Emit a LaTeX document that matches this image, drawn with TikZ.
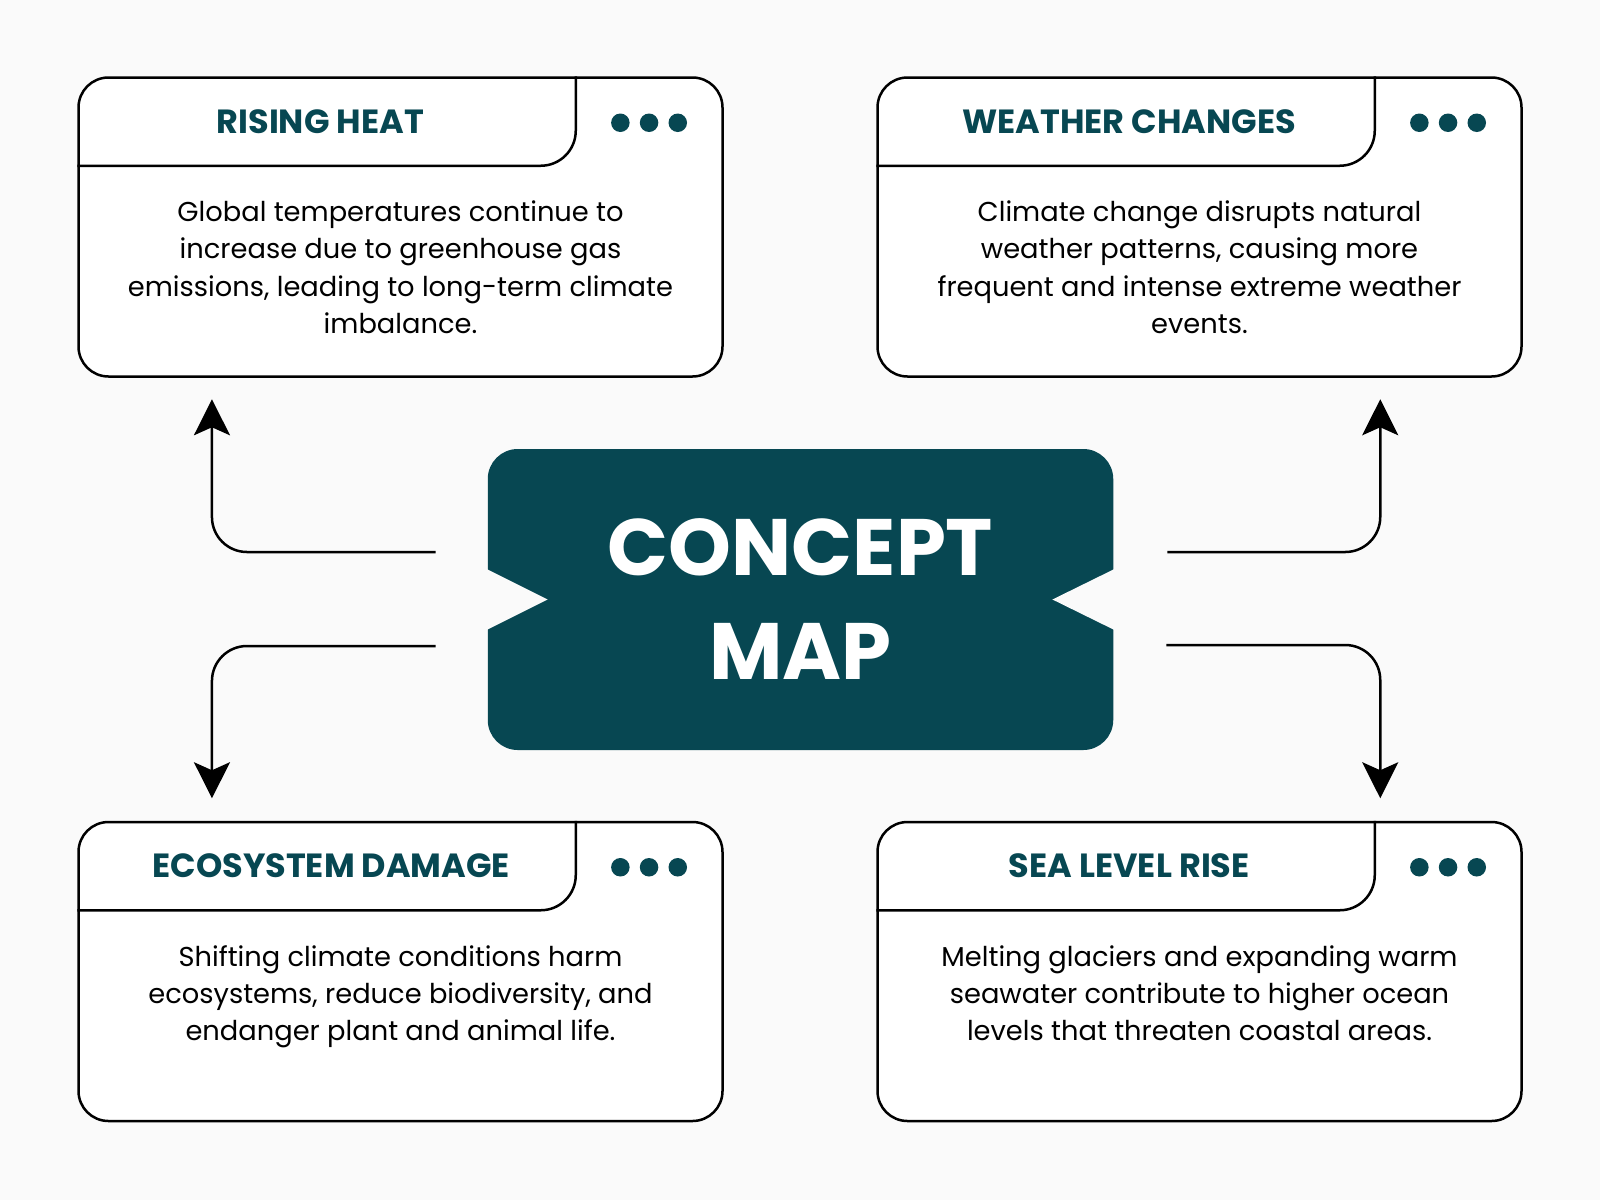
\documentclass[tikz,border=0pt]{standalone}
\usepackage{fontspec}
\setmainfont{Poppins}
\definecolor{deepteal}{RGB}{7, 71, 82}
\definecolor{paper}{RGB}{250, 250, 250}
\usepackage{tikz}
\usetikzlibrary{arrows.meta, positioning, calc}

\tikzset{
  card/.style={draw, line width=2.5pt, fill=white, rounded corners=30pt, minimum width=644pt, minimum height=299pt},
  cardtitle/.style={font=\fontsize{33.5}{40}\selectfont\bfseries, text=deepteal},
  cardtext/.style={font=\fontsize{27.3}{37.4}\selectfont, align=center, anchor=north},
  dot/.style={circle, fill=deepteal, minimum size=18.5pt, inner sep=0pt},
  link/.style={line width=2.5pt, rounded corners=35pt, -{Stealth[length=36pt, width=36pt, inset=8pt]}}
}

\begin{document}
\begin{tikzpicture}[x=1pt, y=-1pt]
  % Background
  \fill[paper] (0,0) rectangle (1600,1200);
  \useasboundingbox (0,0) rectangle (1600,1200);

  % Central concept
  \node[fill=deepteal, rounded corners=30pt, minimum width=625.5pt, minimum height=301pt, text=white, align=center, font=\fontsize{80}{104}\selectfont\bfseries] (concept) at (800.5, 599.5) {CONCEPT\\MAP};
  \fill[paper] ($(concept.west)+(-2,-31)$) -- ($(concept.west)+(60,0)$) -- ($(concept.west)+(-2,31)$) -- cycle;
  \fill[paper] ($(concept.east)+(2,-31)$) -- ($(concept.east)+(-61,0)$) -- ($(concept.east)+(2,31)$) -- cycle;

  % Cards
  \foreach \name/\pos/\tx/\title/\body in {
    heat/{(400.5,227)}/243/RISING HEAT/{Global temperatures continue to\\increase due to greenhouse gas\\emissions, leading to long-term climate\\imbalance.},
    weather/{(1199.5,227)}/253/WEATHER CHANGES/{Climate change disrupts natural\\weather patterns, causing more\\frequent and intense extreme weather\\events.},
    eco/{(400.5,971.5)}/254/ECOSYSTEM DAMAGE/{Shifting climate conditions harm\\ecosystems, reduce biodiversity, and\\endanger plant and animal life.},
    sea/{(1199.5,971.5)}/253/SEA LEVEL RISE/{Melting glaciers and expanding warm\\seawater contribute to higher ocean\\levels that threaten coastal areas.}} {
    \node[card] (\name) at \pos {};
    % header tab
    \draw[line width=2.5pt, rounded corners=35pt] ($(\name.north west)+(0,89.5)$) -| ($(\name.north east)+(-148,0)$);
    \node[cardtitle] (\name-title) at ($(\name.north west)+(\tx,45)$) {\title};
    \node[dot] (\name-d1) at ($(\name.north east)+(-103.4,46.5)$) {};
    \node[dot] (\name-d2) at ($(\name.north east)+(-74.7,46.5)$) {};
    \node[dot] (\name-d3) at ($(\name.north east)+(-46,46.5)$) {};
    \node[cardtext] (\name-text) at ($(\name.north)+(0,121)$) {\body};
  }

  % Connectors
  \coordinate (heat-from) at ($(concept.west)+(-52,-47.5)$);
  \coordinate (heat-to) at ($(heat.south west)+(134.7,21.5)$);
  \coordinate (weather-from) at ($(concept.east)+(54,-47.5)$);
  \coordinate (weather-to) at ($(weather.south west)+(504,21.5)$);
  \coordinate (eco-from) at ($(concept.west)+(-52,46.5)$);
  \coordinate (eco-to) at ($(eco.north west)+(134.7,-22.5)$);
  \coordinate (sea-from) at ($(concept.east)+(53,45.5)$);
  \coordinate (sea-to) at ($(sea.north west)+(504,-22.5)$);
  \draw[link] (heat-from) -| (heat-to);
  \draw[link] (weather-from) -| (weather-to);
  \draw[link] (eco-from) -| (eco-to);
  \draw[link] (sea-from) -| (sea-to);
\end{tikzpicture}
\end{document}
